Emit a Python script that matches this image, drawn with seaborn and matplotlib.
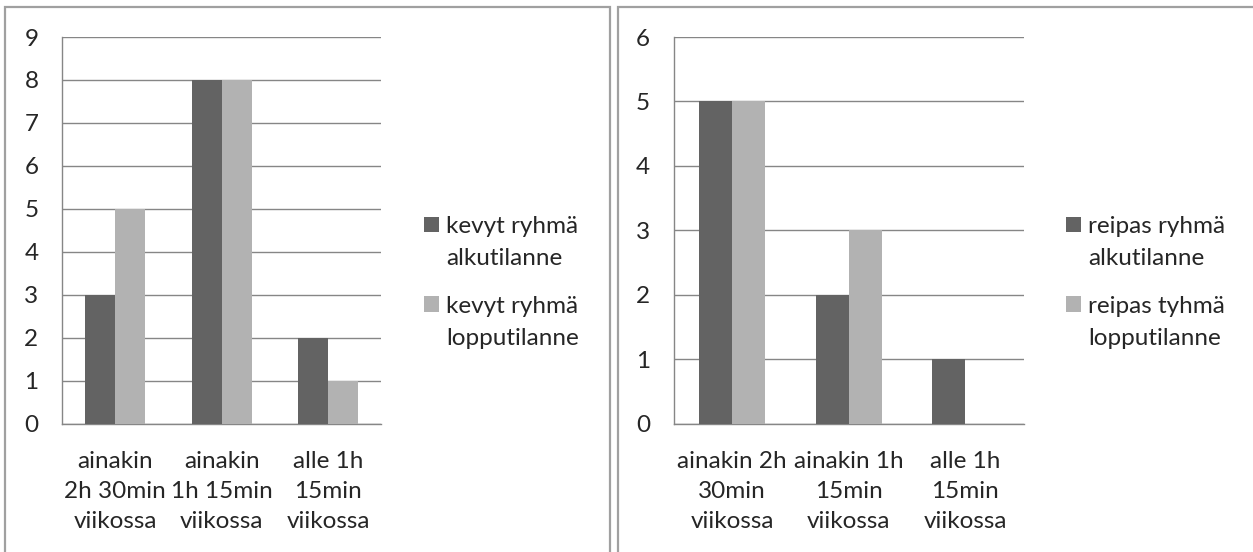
import numpy as np
import pandas as pd
import matplotlib
matplotlib.use("Agg")
import matplotlib.pyplot as plt
from matplotlib.patches import Rectangle
from matplotlib.ticker import FixedLocator
import seaborn as sns

# ── data ─────────────────────────────────────────────
CATS_LEFT  = ["ainakin\n2h 30min\nviikossa", "ainakin\n1h 15min\nviikossa", "alle 1h\n15min\nviikossa"]
CATS_RIGHT = ["ainakin 2h\n30min\nviikossa", "ainakin 1h\n15min\nviikossa", "alle 1h\n15min\nviikossa"]

kevyt_alku   = [3, 8, 2]
kevyt_loppu  = [5, 8, 1]
reipas_alku  = [5, 2, 1]
reipas_loppu = [5, 3, 0]

SERIES_LEFT  = ["kevyt ryhmä\nalkutilanne", "kevyt ryhmä\nlopputilanne"]
SERIES_RIGHT = ["reipas ryhmä\nalkutilanne", "reipas tyhmä\nlopputilanne"]

YMAX_LEFT, YMAX_RIGHT = 9, 6

DARK, LIGHT = "#636363", "#b2b2b2"
GRID = "#868686"
FS = 17.5

sns.set_style("white")
plt.rcParams["font.family"] = ["Lato", "DejaVu Sans"]

fig = plt.figure(figsize=(12.53, 5.52), dpi=100)
W, H = 1253, 552

def fx(px): return px / W
def fy(py): return 1 - py / H

# panel frames
for x0, x1 in [(5, 610), (618, 1300)]:
    fig.add_artist(Rectangle((fx(x0), fy(600)), fx(x1) - fx(x0), fy(7) - fy(600),
                             transform=fig.transFigure, fill=False,
                             edgecolor="#a0a0a0", linewidth=1.6, clip_on=False))

def panel(ax, cats, a, b, names, ymax):
    df = pd.DataFrame({
        "cat":   cats * 2,
        "val":   a + b,
        "serie": [names[0]] * len(cats) + [names[1]] * len(cats),
    })
    sns.barplot(data=df, x="cat", y="val", hue="serie", order=cats,
                hue_order=names, palette=[DARK, LIGHT], width=0.566,
                gap=0, saturation=1, ax=ax, legend=True, zorder=3)
    ax.set_ylim(0, ymax)
    ax.set_xlim(-0.5, len(cats) - 0.5)
    ax.set_yticks(range(0, ymax + 1))
    ax.yaxis.grid(True, color=GRID, linewidth=1.0)
    ax.set_axisbelow(True)
    for s in ["top", "right"]:
        ax.spines[s].set_visible(False)
    for s in ["left", "bottom"]:
        ax.spines[s].set_color(GRID)
        ax.spines[s].set_linewidth(1.0)
    ax.tick_params(axis="y", length=6, width=1.0, color=GRID, labelsize=FS, pad=11)
    ax.tick_params(axis="x", which="major", length=0, labelsize=FS, pad=19.5)
    ax.xaxis.set_minor_locator(FixedLocator(np.arange(-0.5, len(cats), 1)))
    ax.tick_params(axis="x", which="minor", length=6.5, width=1.0, color=GRID)
    for t in ax.get_xticklabels():
        t.set_linespacing(1.55)
    ax.set_xlabel(""); ax.set_ylabel("")
    for sp in ax.patches:
        sp.set_edgecolor("none")

axL = fig.add_axes([fx(62), fy(423.6), fx(381.4) - fx(62), fy(37) - fy(423.6)])
axR = fig.add_axes([fx(673.7), fy(423.6), fx(1023.7) - fx(673.7), fy(37) - fy(423.6)])

panel(axL, CATS_LEFT, kevyt_alku, kevyt_loppu, SERIES_LEFT, YMAX_LEFT)
panel(axR, CATS_RIGHT, reipas_alku, reipas_loppu, SERIES_RIGHT, YMAX_RIGHT)

for ax, lx in [(axL, 424), (axR, 1066)]:
    h, l = ax.get_legend_handles_labels()
    leg = ax.legend(h, l, loc="upper left", bbox_to_anchor=(fx(lx), fy(216)),
                    bbox_transform=fig.transFigure, frameon=False, fontsize=FS,
                    borderpad=0, borderaxespad=0, handlelength=0.62, handleheight=0.62,
                    handletextpad=0.3, labelspacing=1.1)
    for t in leg.get_texts():
        t.set_linespacing(1.65)
    # square next to the first line of each label
    for p in leg.legend_handles:
        p.set_y(p.get_y() + 13)

fig.savefig("out.png", dpi=100)
